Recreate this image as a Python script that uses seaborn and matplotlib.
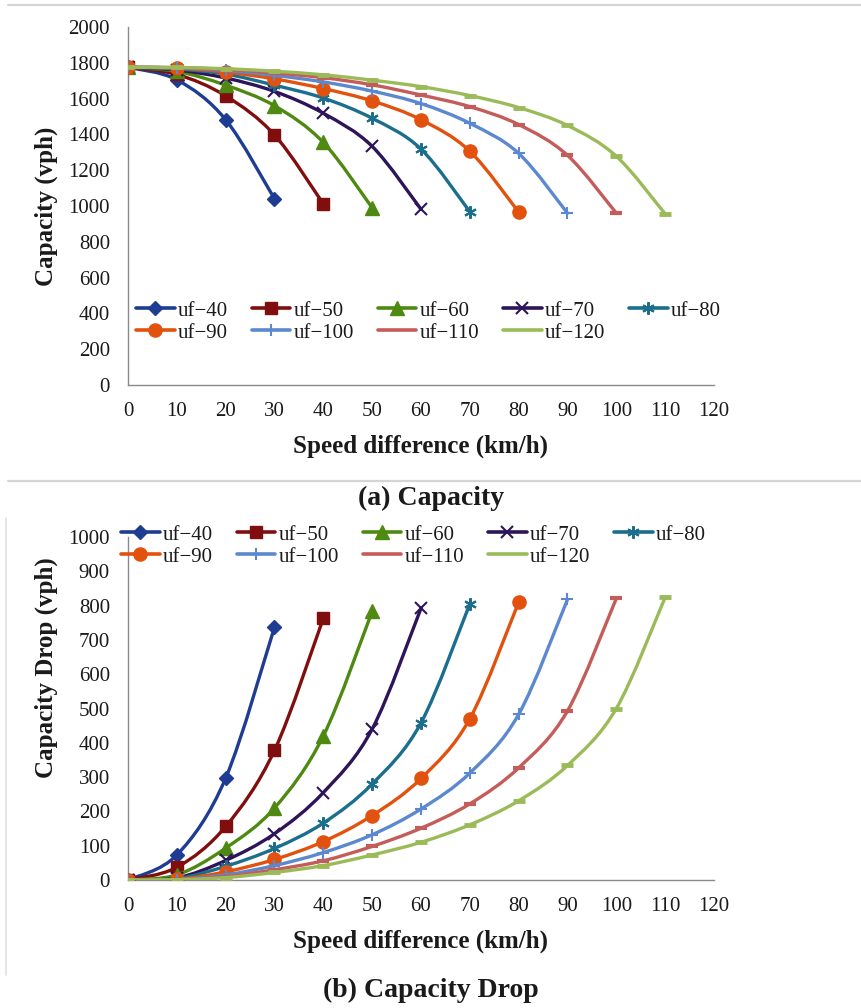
import numpy as np
import matplotlib
matplotlib.use("Agg")
import matplotlib.pyplot as plt
from matplotlib.path import Path
from matplotlib.patches import PathPatch
from matplotlib.lines import Line2D
import seaborn as sns

# ---- data -------------------------------------------------------------
speed_diff = [0, 10, 20, 30, 40, 50, 60, 70, 80, 90, 100, 110]
labels = ["uf\u221240", "uf\u221250", "uf\u221260", "uf\u221270", "uf\u221280",
          "uf\u221290", "uf\u2212100", "uf\u2212110", "uf\u2212120"]

cap_40 = [1775, 1705, 1482, 1040]
cap_50 = [1775, 1735, 1615, 1397, 1012]
cap_60 = [1775, 1752, 1675, 1560, 1355, 990]
cap_70 = [1775, 1760, 1715, 1640, 1518, 1333, 982]
cap_80 = [1775, 1765, 1737, 1675, 1603, 1490, 1318, 968]
cap_90 = [1775, 1770, 1748, 1710, 1656, 1587, 1482, 1306, 966]
cap_100 = [1775, 1772, 1757, 1730, 1693, 1642, 1572, 1462, 1294, 960]
cap_110 = [1775, 1773, 1763, 1743, 1717, 1677, 1620, 1555, 1455, 1283, 960]
cap_120 = [1775, 1774, 1767, 1753, 1733, 1703, 1667, 1617, 1550, 1450, 1278, 956]

drop_40 = [0, 73, 297, 737]
drop_50 = [0, 37, 156, 378, 763]
drop_60 = [0, 15, 93, 210, 420, 783]
drop_70 = [0, 6, 57, 135, 255, 440, 792]
drop_80 = [0, 4, 40, 92, 166, 280, 458, 805]
drop_90 = [0, 2, 24, 60, 112, 188, 296, 470, 810]
drop_100 = [0, 1, 15, 42, 80, 132, 207, 312, 483, 818]
drop_110 = [0, 1, 10, 30, 56, 98, 151, 222, 327, 493, 821]
drop_120 = [0, 1, 7, 22, 42, 73, 110, 161, 231, 334, 500, 824]

capacity = [cap_40, cap_50, cap_60, cap_70, cap_80, cap_90, cap_100, cap_110, cap_120]
cap_drop = [drop_40, drop_50, drop_60, drop_70, drop_80, drop_90, drop_100, drop_110, drop_120]

x_ticks = list(range(0, 121, 10))
cap_ticks = list(range(0, 2001, 200))
drop_ticks = list(range(0, 1001, 100))

# ---- style ------------------------------------------------------------
colors = ["#1F3C93", "#800E0E", "#4E8A12", "#2E1458", "#1B6F8C",
          "#E2520E", "#5B88CF", "#C45C5A", "#9BBB59"]
# (marker, size, edge width)
markers = [("D", 7.5, 1.0), ("s", 8.5, 1.0), ("^", 9.5, 1.0), ("x", 8, 1.5),
           ((6, 2, 0), 9, 1.5), ("o", 9.5, 1.0), ("+", 9, 1.5),
           ("_", 8, 3.0), ("_", 9, 3.5)]

sns.set_theme(style="white")
plt.rcParams["font.family"] = ["Liberation Serif", "DejaVu Serif"]

TEXT = "#1a1a1a"
AXIS = "#8a8a8a"
W, H = 862, 1008


def smooth_path(xs, ys):
    """Cubic Bezier path through the points (Catmull-Rom style smoothing)."""
    pts = np.column_stack([xs, ys]).astype(float)
    n = len(pts)
    verts = [pts[0]]
    codes = [Path.MOVETO]
    for i in range(n - 1):
        p0 = pts[i - 1] if i > 0 else pts[i]
        p1 = pts[i]
        p2 = pts[i + 1]
        p3 = pts[i + 2] if i + 2 < n else pts[i + 1]
        c1 = p1 + (p2 - p0) / 6.0
        c2 = p2 - (p3 - p1) / 6.0
        verts += [c1, c2, p2]
        codes += [Path.CURVE4] * 3
    return Path(verts, codes)


def draw_panel(ax, series, yticks, ylabel, ylabel_y):
    for k, ys in enumerate(series):
        xs = speed_diff[:len(ys)]
        col = colors[k]
        m, ms, mew = markers[k]
        ax.add_patch(PathPatch(smooth_path(xs, ys), fill=False, edgecolor=col,
                               lw=2.4, capstyle="round", joinstyle="round",
                               zorder=3 + 2 * k))
        sns.lineplot(x=xs, y=ys, ax=ax, color=col, marker=m, markersize=ms,
                     markeredgecolor=col, markerfacecolor=col,
                     markeredgewidth=mew, linestyle="none", estimator=None,
                     sort=False, legend=False, zorder=4 + 2 * k)
    ax.set_xlim(0, 120)
    ax.set_ylim(yticks[0], yticks[-1])
    ax.set_xticks(x_ticks)
    ax.set_yticks(yticks)
    ax.set_xticklabels([str(v) for v in x_ticks])
    ax.set_yticklabels([str(v) for v in yticks])
    for side in ("top", "right"):
        ax.spines[side].set_visible(False)
    for side in ("left", "bottom"):
        ax.spines[side].set_color(AXIS)
        ax.spines[side].set_linewidth(1.0)
    ax.tick_params(axis="both", which="major", direction="out", length=4,
                   width=1.0, color=AXIS, labelsize=15, labelcolor=TEXT)
    ax.tick_params(axis="x", pad=8)
    ax.tick_params(axis="y", pad=9)
    ax.set_xlabel("Speed difference (km/h)", fontsize=18, fontweight="bold",
                  color=TEXT, labelpad=10)
    ax.set_ylabel(ylabel, fontsize=18, fontweight="bold", color=TEXT)
    ax.yaxis.set_label_coords(-70 / 586, ylabel_y)
    ax.set_facecolor("white")
    ax.grid(False)


def legend_entries():
    hs = []
    for k in range(len(labels)):
        m, ms, mew = markers[k]
        if m == "_":
            m = "None"
        hs.append(Line2D([], [], color=colors[k], lw=2.6, marker=m,
                         markersize=ms, markeredgecolor=colors[k],
                         markerfacecolor=colors[k], markeredgewidth=mew))
    # legend fills column by column; order entries so rows read left to right
    order = [0, 5, 1, 6, 2, 7, 3, 8, 4]
    return [hs[i] for i in order], [labels[i] for i in order]


def add_legend(ax, x_px, y_px):
    hs, labs = legend_entries()
    leg = ax.legend(hs, labs, ncol=5, loc="upper left",
                    bbox_to_anchor=(x_px / W, 1 - y_px / H),
                    bbox_transform=fig.transFigure, frameon=False,
                    fontsize=15, handlelength=1.85, handletextpad=0.15,
                    columnspacing=1.15, labelspacing=0.12, borderpad=0,
                    borderaxespad=0)
    for t in leg.get_texts():
        t.set_color(TEXT)
    leg.set_zorder(50)
    return leg


fig = plt.figure(figsize=(W / 100, H / 100), dpi=100)
fig.patch.set_facecolor("white")

ax1 = fig.add_axes([128 / W, 1 - 385 / H, 586 / W, 358 / H])
ax2 = fig.add_axes([128 / W, 1 - 880 / H, 586 / W, 343 / H])

draw_panel(ax1, capacity, cap_ticks, "Capacity (vph)", 0.5)
draw_panel(ax2, cap_drop, drop_ticks, "Capacity Drop (vph)", 0.62)

add_legend(ax1, 136, 301)
add_legend(ax2, 121, 525)

# panel captions
fig.text(431 / W, 1 - 498 / H, "(a) Capacity", ha="center", va="center",
         fontsize=20, fontweight="bold", color=TEXT)
fig.text(431 / W, 1 - 990 / H, "(b) Capacity Drop", ha="center", va="center",
         fontsize=20, fontweight="bold", color=TEXT)

# thin frame rules around the panels
rule = dict(color="#d4d4d4", lw=1.6, transform=fig.transFigure)
fig.add_artist(Line2D([8 / W, 1], [1 - 5 / H, 1 - 5 / H], **rule))
fig.add_artist(Line2D([8 / W, 1], [1 - 481 / H, 1 - 481 / H], **rule))
fig.add_artist(Line2D([6 / W, 6 / W], [1 - 518 / H, 1 - 975 / H],
                      color="#e2e2e2", lw=1.2, transform=fig.transFigure))

fig.savefig("out.png", dpi=100, facecolor="white")
